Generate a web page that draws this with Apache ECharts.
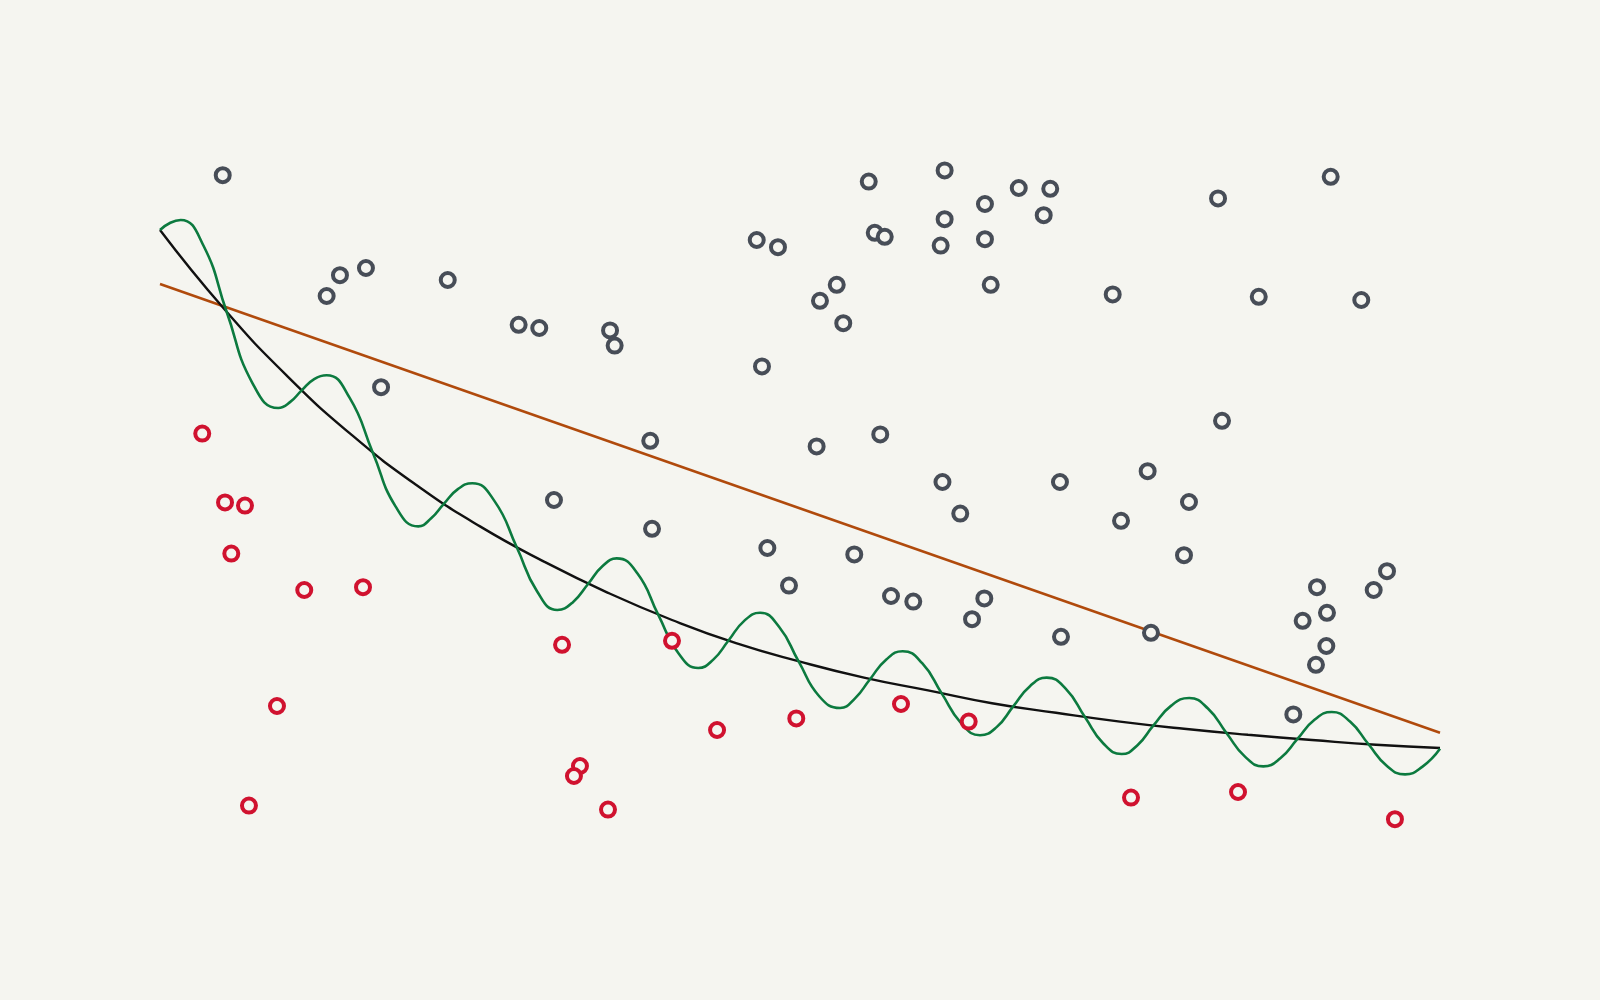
<!DOCTYPE html>
<html>
<head>
<meta charset="utf-8">
<script src="https://cdn.jsdelivr.net/npm/echarts@6/dist/echarts.min.js"></script>
<style>
html,body{margin:0;padding:0;background:#f5f5f0;}
#chart{width:1600px;height:1000px;}
</style>
</head>
<body>
<div id="chart"></div>
<script>
// Gray observations [x, y]
const grayPoints = [
  [4.9,90.6],[14.06,78.1],[16.09,79.0],[13.02,75.5],[22.48,77.5],[28.02,71.9],[29.63,71.5],[17.27,64.1],
  [55.37,89.8],[61.3,91.2],[67.09,89.0],[64.45,87.0],[61.3,85.1],[55.84,83.4],[56.62,82.9],[60.99,81.8],
  [64.45,82.6],[46.62,82.5],[48.28,81.6],[52.87,76.9],[51.56,74.9],[53.38,72.1],[64.9,76.9],[35.16,71.2],
  [35.52,69.3],[47.03,66.7],[38.3,57.4],[51.3,56.7],[56.27,58.2],[61.13,52.25],[69.55,88.9],[69.04,85.6],
  [82.66,87.7],[91.46,90.4],[74.43,75.7],[85.84,75.4],[93.85,75.0],[82.97,59.9],[70.31,52.25],[77.16,53.6],
  [30.78,50.0],[38.44,46.4],[47.45,44.0],[54.24,43.2],[49.14,39.3],[57.11,38.0],[58.85,37.3],[64.4,37.7],
  [63.44,35.1],[62.52,48.3],[80.39,49.75],[75.08,47.4],[80.0,43.1],[70.39,32.9],[77.42,33.4],[90.39,39.1],
  [95.86,41.1],[94.82,38.75],[89.27,34.9],[91.17,35.9],[91.12,31.75],[90.31,29.4],[88.54,23.2]
];
// Red observations [x, y]
const redPoints = [
  [3.3,58.3],[5.08,49.7],[6.64,49.3],[5.57,43.3],[11.27,38.75],[15.86,39.1],[9.14,24.25],[6.95,11.8],
  [31.41,31.9],[32.81,16.75],[32.34,15.5],[35.0,11.3],[40.0,32.4],[43.52,21.25],[49.71,22.7],[57.89,24.5],
  [63.18,22.3],[75.86,12.8],[84.22,13.5],[96.48,10.1]
];
// Straight trend line
const linearFit = [[0,77.0],[100,20.9]];
// Decaying curve
const curveX = [0,5,10,15,20,25,30,35,40,45,50,55,60,65,70,75,80,85,90,95,100];
const curveY = [83.75,73.9,65.4,58.1,51.9,46.7,42.3,38.4,35.0,32.1,29.8,27.8,26.2,24.6,23.4,22.3,21.4,20.65,20.0,19.4,19.0];
// Oscillating curve: peaks, troughs, crossings and in-between values read along the wave
const waveX = [0,0.81,1.62,3.41,5.2, 7.22,9.24,10.155,11.07, 12.045,13.02,14.82,16.62, 18.4,20.18,21.185,22.19,
  23.295,24.4,26.135,27.87, 29.455,31.04,32.24,33.44, 34.56,35.68,37.305,38.93, 40.49,42.05,43.225,44.4,
  45.64,46.88,48.375,49.87, 51.5,53.13,54.3,55.47, 56.745,58.02,59.545,61.07, 62.565,64.06,65.36,66.66,
  67.965,69.27,70.77,72.27, 73.7,75.13,76.365,77.6, 79.005,80.41,81.87,83.33, 84.765,86.2,87.525,88.85,
  90.195,91.54,92.97,94.4, 95.835,97.27,98.635,100];
const waveY = [83.75,84.66,85.0,81.75,73.56, 64.62,61.5,62.23,63.7, 65.11,65.6,62.76,55.95, 49.21,46.7,47.71,49.55,
  51.39,52.1,49.86,44.1, 38.6,36.25,37.2,39.5, 41.71,42.7,40.81,35.65, 30.87,29.0,30.05,32.4,
  34.89,35.9,34.12,29.9, 25.47,24.0,25.21,27.6, 30.07,31.1,29.6,25.83, 22.15,20.6,21.61,24.2,
  26.73,27.8,26.39,22.85, 19.56,18.25,19.35,21.8, 24.3,25.25,23.93,20.85, 17.92,16.7,17.72,20.1,
  22.52,23.5,22.3,19.5, 16.79,15.7,16.67,18.9];

const bg = '#f5f5f0';
const chart = echarts.init(document.getElementById('chart'));
chart.setOption({
  backgroundColor: bg,
  animation: false,
  grid: {left:160, right:160, top:100, bottom:100},
  xAxis: {type:'value', min:0, max:100, show:false},
  yAxis: {type:'value', min:0, max:100, show:false},
  series: [
    {type:'line', data: linearFit, showSymbol:false, lineStyle:{color:'#b04a0c', width:2.5}, z:1},
    {type:'line', data: curveX.map((x,i)=>[x,curveY[i]]), smooth:0.5, showSymbol:false, lineStyle:{color:'#111111', width:2.4}, z:2},
    {type:'line', data: waveX.map((x,i)=>[x,waveY[i]]), smooth:0.5, showSymbol:false, lineStyle:{color:'#0c7a3f', width:2.6}, z:3},
    {type:'scatter', data: grayPoints, symbol:'circle', symbolSize:14, itemStyle:{color:bg, borderColor:'#474d57', borderWidth:4, opacity:1}, z:5},
    {type:'scatter', data: redPoints, symbol:'circle', symbolSize:14, itemStyle:{color:bg, borderColor:'#d0122f', borderWidth:4, opacity:1}, z:6}
  ]
});
</script>
</body>
</html>
